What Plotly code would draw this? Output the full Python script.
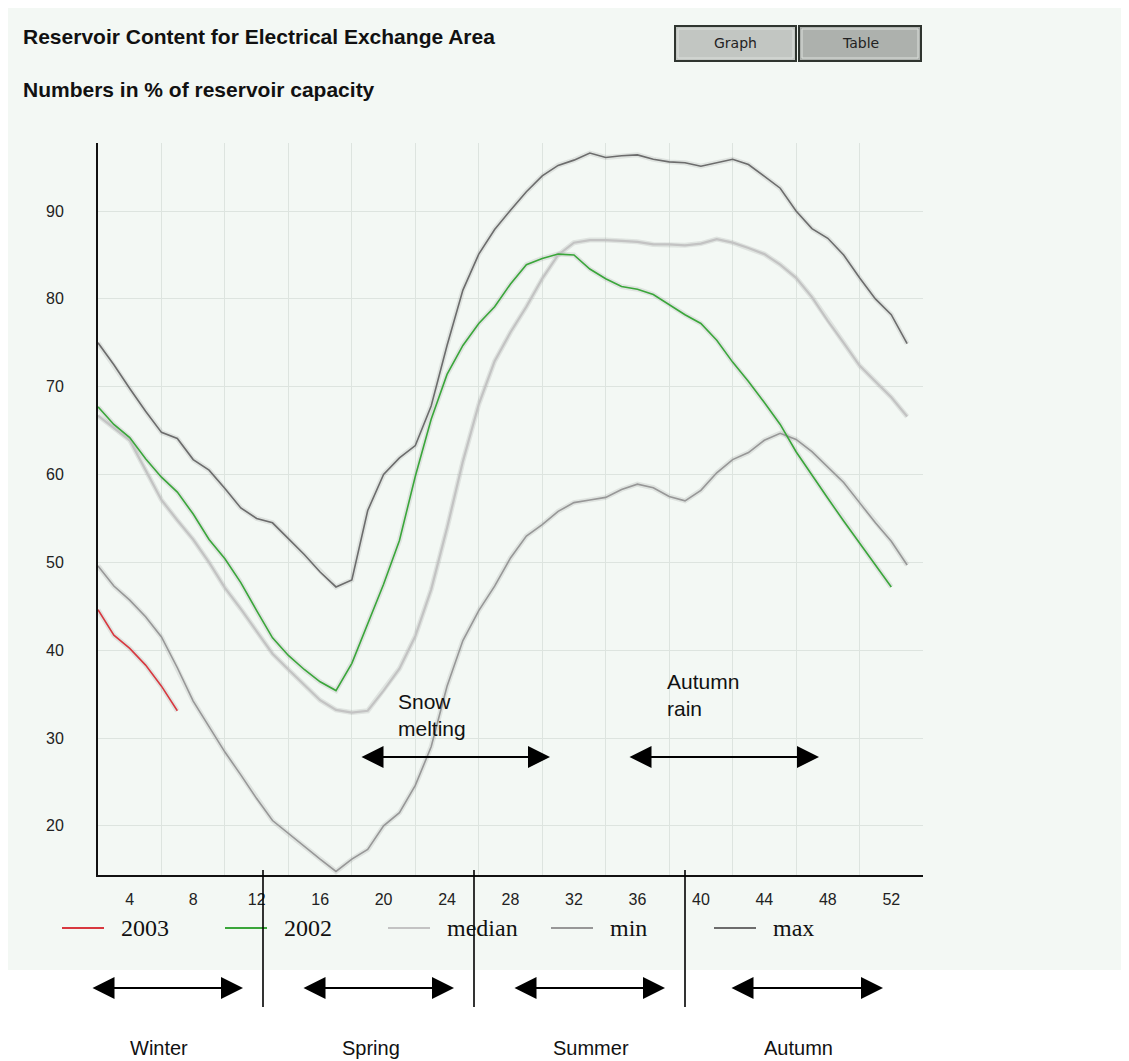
import plotly.graph_objects as go

# ---------------- data ----------------
weeks = list(range(1, 53))
x_tick_labels = ["4", "8", "12", "16", "20", "24", "28", "32", "36", "40", "44", "48", "52"]
y_tick_values = [20, 30, 40, 50, 60, 70, 80, 90]

series_2003 = [44.6, 41.7, 40.2, 38.3, 35.9, 33.1]
series_2002 = [67.7, 65.7, 64.2, 61.8, 59.7, 58.0, 55.5, 52.6, 50.4, 47.7,
               44.5, 41.4, 39.4, 37.8, 36.4, 35.4, 38.5, 42.9, 47.5, 52.5,
               59.8, 66.3, 71.4, 74.7, 77.2, 79.1, 81.7, 83.9, 84.6, 85.1,
               85.0, 83.4, 82.3, 81.4, 81.1, 80.5, 79.3, 78.2, 77.2, 75.3,
               72.8, 70.6, 68.2, 65.7, 62.6, 59.9, 57.3, 54.7, 52.2, 49.7, 47.2]
series_median = [66.7, 65.3, 63.9, 60.5, 57.1, 54.8, 52.6, 50.0, 47.1, 44.7,
                 42.1, 39.6, 37.8, 36.1, 34.3, 33.2, 32.9, 33.1, 35.4, 37.9,
                 41.6, 46.9, 53.9, 61.5, 68.0, 72.9, 76.2, 79.1, 82.3, 85.0,
                 86.4, 86.7, 86.7, 86.6, 86.5, 86.2, 86.2, 86.1, 86.3, 86.8,
                 86.4, 85.8, 85.1, 83.9, 82.4, 80.2, 77.5, 75.0, 72.4, 70.6, 68.8, 66.6]
series_min = [49.6, 47.3, 45.7, 43.8, 41.5, 38.0, 34.2, 31.3, 28.4, 25.8,
              23.1, 20.6, 19.1, 17.7, 16.2, 14.8, 16.2, 17.3, 20.0, 21.5,
              24.6, 29.0, 35.9, 41.1, 44.5, 47.3, 50.5, 53.0, 54.3, 55.8,
              56.8, 57.1, 57.4, 58.3, 58.9, 58.5, 57.5, 57.0, 58.2, 60.2,
              61.7, 62.5, 63.9, 64.7, 64.0, 62.6, 60.8, 59.1, 56.8, 54.5, 52.4, 49.7]
series_max = [75.0, 72.5, 69.8, 67.2, 64.8, 64.1, 61.7, 60.5, 58.4, 56.2,
              55.0, 54.5, 52.7, 50.9, 48.9, 47.2, 48.0, 55.9, 60.0, 61.9,
              63.3, 67.8, 74.7, 81.0, 85.1, 87.9, 90.1, 92.2, 94.0, 95.2,
              95.8, 96.6, 96.1, 96.3, 96.4, 95.9, 95.6, 95.5, 95.1, 95.5,
              95.9, 95.3, 93.9, 92.6, 90.0, 88.0, 86.9, 85.0, 82.4, 80.0, 78.2, 74.9]

series_names = ["2003", "2002", "median", "min", "max"]
series_colors = ["#d8383f", "#3aa63a", "#c3c3c3", "#979797", "#6c6c6c"]
season_labels = ["Winter", "Spring", "Summer", "Autumn"]

# ---------------- layout geometry (page pixels) ----------------
OFF = 8                      # browser body margin
PAGE_W, PAGE_H = 1129, 1061
W, H = PAGE_W - OFF, PAGE_H - OFF
L, R, T, B = 98, 923, 143, 875   # plot area in page pixels


def px(x):
    return (x - L) / (R - L)


def py(y):
    return (B - y) / (B - T)


BG = "#f3f8f4"
GRID = "#dde4df"
SANS = "Liberation Sans, Arial, sans-serif"

fig = go.Figure()

all_series = [series_2003, series_2002, series_median, series_min, series_max]
widths = [1.6, 1.6, 2.2, 1.6, 1.6]
for vals in all_series[::-1]:
    fig.add_trace(go.Scatter(x=weeks[:len(vals)], y=vals, mode="lines",
                             line=dict(color="rgba(90,90,90,0.13)", width=5),
                             hoverinfo="skip", showlegend=False))
for name, vals, col, w in list(zip(series_names, all_series, series_colors, widths))[::-1]:
    fig.add_trace(go.Scatter(x=weeks[:len(vals)], y=vals, mode="lines", name=name,
                             line=dict(color=col, width=w), showlegend=False))

shapes = []
annotations = []

# light panel background
shapes.append(dict(type="rect", xref="paper", yref="paper", layer="below",
                   x0=px(6), x1=px(1140), y0=py(970), y1=py(6),
                   fillcolor=BG, line=dict(width=0)))

# title texts
annotations.append(dict(text="<b>Reservoir Content for Electrical Exchange Area</b>",
                        xref="paper", yref="paper", x=px(21), y=py(37),
                        xanchor="left", yanchor="middle", showarrow=False,
                        font=dict(family=SANS, size=21, color="#111")))
annotations.append(dict(text="<b>Numbers in % of reservoir capacity</b>",
                        xref="paper", yref="paper", x=px(21), y=py(89),
                        xanchor="left", yanchor="middle", showarrow=False,
                        font=dict(family=SANS, size=21, color="#111")))

# buttons
for (x0, x1, fill, label) in [(675, 796, "#c2c6c2", "Graph"), (799, 921, "#adb1ad", "Table")]:
    shapes.append(dict(type="rect", xref="paper", yref="paper",
                       x0=px(x0), x1=px(x1), y0=py(61), y1=py(26),
                       fillcolor=fill, line=dict(color="#2f352f", width=2)))
    shapes.append(dict(type="rect", xref="paper", yref="paper",
                       x0=px(x0 + 3), x1=px(x1 - 3), y0=py(58), y1=py(29),
                       fillcolor="rgba(0,0,0,0)", line=dict(color="#dde1dd", width=1)))
    annotations.append(dict(text=label, xref="paper", yref="paper",
                            x=px((x0 + x1) / 2), y=py(43.5), showarrow=False,
                            xanchor="center", yanchor="middle",
                            font=dict(family="DejaVu Sans, sans-serif", size=14, color="#222")))

# legend (manual)
legend_x = [62, 225, 388, 551, 714]
for name, col, lx in zip(series_names, series_colors, legend_x):
    shapes.append(dict(type="line", xref="paper", yref="paper",
                       x0=px(lx), x1=px(lx + 42), y0=py(928), y1=py(928),
                       line=dict(color=col, width=2.2)))
    annotations.append(dict(text=name, xref="paper", yref="paper",
                            x=px(lx + 57), y=py(928), xanchor="left", yanchor="middle",
                            showarrow=False,
                            font=dict(family="Liberation Serif, Times New Roman, serif",
                                      size=24, color="#111")))

# season separators
for sx in [263, 474, 685]:
    shapes.append(dict(type="line", xref="paper", yref="paper",
                       x0=px(sx), x1=px(sx), y0=py(870), y1=py(1007),
                       line=dict(color="black", width=1.6)))


def double_arrow(x1, x2, y):
    annotations.append(dict(text="", xref="paper", yref="paper",
                            x=px(x2), y=py(y), ax=-(x2 - x1), ay=0,
                            axref="pixel", ayref="pixel", showarrow=True,
                            arrowside="end+start", arrowhead=2, startarrowhead=2,
                            arrowsize=2.2, startarrowsize=2.2, arrowwidth=2,
                            arrowcolor="black", standoff=0, startstandoff=0))


for (a, b), lab, cx in zip([(91, 243), (302, 454), (513, 665), (730, 883)],
                           season_labels, [159, 371, 591, 798]):
    double_arrow(a, b, 988)
    annotations.append(dict(text=lab, xref="paper", yref="paper",
                            x=px(cx), y=py(1048), xanchor="center", yanchor="middle",
                            showarrow=False,
                            font=dict(family=SANS, size=20, color="#111")))

double_arrow(360, 550, 757)
double_arrow(628, 819, 757)
annotations.append(dict(text="Snow<br>melting", xref="paper", yref="paper",
                        x=px(396), y=py(715), xanchor="left", yanchor="middle",
                        align="left", showarrow=False,
                        font=dict(family=SANS, size=21, color="#111")))
annotations.append(dict(text="Autumn<br>rain", xref="paper", yref="paper",
                        x=px(665), y=py(695), xanchor="left", yanchor="middle",
                        align="left", showarrow=False,
                        font=dict(family=SANS, size=21, color="#111")))

fig.update_layout(
    width=W, height=H, autosize=False,
    margin=dict(l=L - OFF, r=PAGE_W - R, t=T - OFF, b=PAGE_H - B, pad=0),
    paper_bgcolor="white", plot_bgcolor=BG,
    shapes=shapes, annotations=annotations,
    showlegend=False,
    xaxis=dict(range=[1, 53], tickmode="array",
               tickvals=[3 + 4 * i for i in range(len(x_tick_labels))],
               ticktext=x_tick_labels, showgrid=False, zeroline=False,
               showline=True, linecolor="#111", linewidth=2, ticks="",
               ticklabelstandoff=9,
               tickfont=dict(family=SANS, size=16, color="#222"),
               minor=dict(tickmode="array", tickvals=[5 + 4 * i for i in range(12)],
                          showgrid=True, gridcolor=GRID, gridwidth=1, ticks="")),
    yaxis=dict(range=[14.4, 97.75], tickmode="array", tickvals=y_tick_values,
               showgrid=True, gridcolor=GRID, gridwidth=1, zeroline=False,
               showline=True, linecolor="#111", linewidth=2, ticks="",
               ticklabelstandoff=29,
               tickfont=dict(family=SANS, size=16, color="#222")),
)

fig.write_html("out.html")
